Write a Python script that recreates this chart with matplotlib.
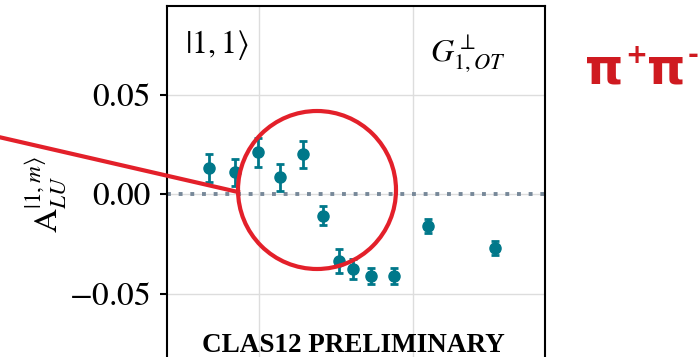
import numpy as np
import matplotlib
matplotlib.use("Agg")
import matplotlib.pyplot as plt
from matplotlib.patches import Ellipse
from matplotlib.lines import Line2D

# data
x_vals = [0.335, 0.420, 0.494, 0.568, 0.641, 0.705, 0.757, 0.803, 0.863, 0.938, 1.046, 1.266]
asym = [0.0131, 0.0111, 0.0211, 0.0085, 0.0201, -0.0108, -0.0335, -0.0377, -0.0411, -0.0409, -0.0159, -0.0271]
asym_err = [0.0070, 0.0068, 0.0073, 0.0069, 0.0069, 0.0048, 0.0059, 0.0050, 0.0040, 0.0040, 0.0035, 0.0035]
y_ticks = [-0.05, 0.00, 0.05]
y_tick_labels = ["$-0.05$", "0.00", "0.05"]
x_ticks = [0.5, 1.0]

plt.rcParams['font.family'] = 'STIXGeneral'
plt.rcParams['mathtext.fontset'] = 'stix'

W, H = 700, 357
fig = plt.figure(figsize=(W / 100, H / 100), dpi=100)

# axes box in pixels: left 167, right 545, top 6, bottom 370 (below the image)
ax = fig.add_axes([167 / W, (H - 370) / H, 378 / W, 364 / H])
ax.set_axisbelow(True)

ax.grid(True, color="#dddddd", lw=1.0)
ax.axhline(0, color="#778899", lw=2.8, linestyle=(0, (1, 2)), zorder=2)

ax.errorbar(x_vals, asym, yerr=asym_err, fmt="o", color="#00788a",
            markersize=8, elinewidth=2, capsize=3, capthick=2, zorder=3)

ax.set_xlim(0.2, 1.427)
ax.set_ylim(-0.0883, 0.0946)
ax.set_yticks(y_ticks)
ax.set_yticklabels(y_tick_labels)
ax.set_xticks(x_ticks)
ax.set_xticklabels([])
ax.tick_params(axis="y", labelsize=24, length=5, width=1.5, direction="out", pad=7)
ax.tick_params(axis="x", length=0)
for sp in ax.spines.values():
    sp.set_linewidth(1.5)
    sp.set_color("black")

ax.text(0.048, 0.871, r"$|1,1\rangle$", transform=ax.transAxes,
        fontsize=23, ha="left", va="baseline")
ax.text(0.696, 0.846, r"$G_{1,OT}^{\perp}$", transform=ax.transAxes,
        fontsize=23, ha="left", va="baseline")
ax.text(0.494, 0.05, "CLAS12 PRELIMINARY", transform=ax.transAxes,
        fontsize=19.5, fontweight="bold", family="Liberation Serif",
        ha="center", va="baseline")

fig.text(46 / W, 1 - 195 / H, r"$\mathrm{A}_{LU}^{|1,m\rangle}$", rotation=90,
         fontsize=24, ha="center", va="center")

# red annotation: circle plus pointer line (pixel positions of the overlay)
red = "#e3202a"
circ = Ellipse((317 / W, 1 - 190 / H), 2 * 79 / W, 2 * 79 / H,
               transform=fig.transFigure, fill=False, edgecolor=red, lw=3, zorder=10)
fig.add_artist(circ)
fig.add_artist(Line2D([0, 238 / W], [1 - 137.3 / H, 1 - 192 / H],
                      transform=fig.transFigure, color=red, lw=3, zorder=10))

# pi+ pi- label, built from pieces so the charges sit high like the reference
label_red = "#cf1a20"
fig.text(585 / W, 1 - 84 / H, "π", color=label_red, fontsize=35,
         fontweight="bold", family="DejaVu Sans", ha="left", va="baseline")
fig.text(625 / W, 1 - 63 / H, "+", color=label_red, fontsize=19,
         fontweight="bold", family="DejaVu Sans", ha="left", va="baseline")
fig.text(647 / W, 1 - 84 / H, "π", color=label_red, fontsize=35,
         fontweight="bold", family="DejaVu Sans", ha="left", va="baseline")
fig.text(688 / W, 1 - 63 / H, "-", color=label_red, fontsize=19,
         fontweight="bold", family="DejaVu Sans", ha="left", va="baseline")

fig.savefig("out.png", dpi=100)
